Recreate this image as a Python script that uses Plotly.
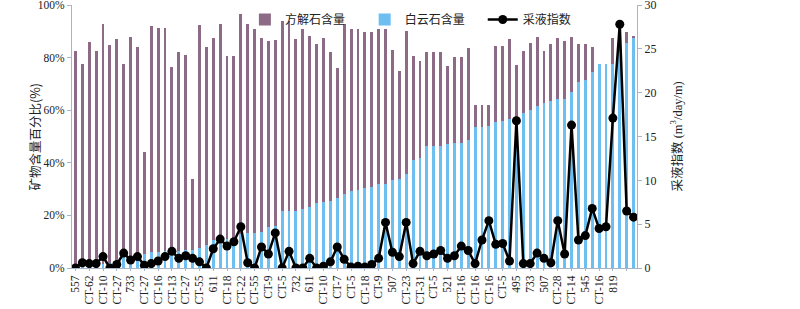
import plotly.graph_objects as go

# ---- data ----
tick_labels = ["557", "CT-62", "CT-10", "CT-27", "733", "CT-27", "CT-16", "CT-13", "CT-27", "CT-55",
               "611", "CT-18", "CT-22", "CT-55", "CT-9", "CT-5", "732", "611", "CT-10", "CT-7",
               "CT-5", "CT-18", "CT-9", "507", "CT-23", "CT-31", "CT-5", "521", "CT-16", "CT-16",
               "CT-16", "CT-5", "495", "733", "507", "CT-28", "CT-14", "545", "CT-16", "819", ""]

dolomite = [1, 1, 1, 1, 1.5, 2, 3, 4.2, 4.2, 4.3,
            5.5, 6.1, 6.2, 6.3, 6.5, 6.6, 6.8, 7.0, 7.7, 8.6,
            10.5, 10.8, 11.2, 11.5, 13.1, 13.5, 13.5, 13.7, 15.6, 16.1,
            21.6, 21.6, 21.8, 22.6, 23.2, 24.7, 25.1, 25.6, 26.6, 28.3,
            29.3, 29.6, 30.6, 30.8, 31.9, 31.9, 33.4, 33.8, 35.9, 41.2,
            42.0, 46.4, 46.4, 46.4, 47.1, 47.6, 47.7, 48.6, 53.7, 53.7,
            53.9, 55.6, 55.8, 56.6, 57.5, 58.8, 60.0, 61.5, 62.6, 63.5,
            64.2, 64.2, 67.0, 70.7, 71.4, 74.6, 77.4, 77.4, 77.4, 82.0,
            85.7, 87.7]

calcite = [81.5, 76.4, 84.9, 81.7, 91.3, 82.8, 84.1, 73.5, 83.5, 79.7,
           38.5, 85.9, 85.2, 84.9, 70.0, 75.4, 74.2, 26.8, 84.7, 75.5,
           77.1, 81.8, 69.4, 69.1, 83.5, 79.1, 77.5, 73.6, 70.8, 70.6,
           72.4, 72.4, 65.1, 68.4, 65.0, 60.5, 62.5, 56.4, 49.4, 64.3,
           61.7, 61.4, 59.3, 59.1, 59.1, 59.1, 49.6, 41.2, 54.3, 39.5,
           36.7, 35.6, 35.6, 35.6, 29.7, 32.6, 32.5, 34.9, 8.2, 8.2,
           8.0, 28.8, 28.6, 30.5, 19.5, 23.9, 25.7, 26.4, 20.1, 21.7,
           23.1, 22.0, 20.9, 14.5, 13.8, 9.3, 0, 0, 10.2, 8.0,
           3.9, 0.5]

liquid_index = [0, 0.6, 0.5, 0.5, 1.3, 0, 0.4, 1.7, 0.9, 1.3,
                0.3, 0.5, 0.8, 1.3, 1.9, 1.1, 1.4, 1.1, 0.7, 0,
                2.2, 3.3, 2.5, 3.0, 4.7, 0.6, 0, 2.4, 1.6, 4.0,
                0, 1.9, 0, 0, 1.1, 0, 0.2, 0.7, 2.4, 1.0,
                0.1, 0.2, 0.1, 0.4, 1.1, 5.2, 1.8, 1.3, 5.2, 0.5,
                1.9, 1.4, 1.6, 2.0, 1.1, 1.4, 2.5, 2.0, 0.5, 3.2,
                5.4, 2.7, 2.8, 0.8, 16.8, 0.5, 0.5, 1.7, 1.1, 0.6,
                5.4, 1.6, 16.3, 3.2, 3.7, 6.8, 4.5, 4.7, 17.1, 27.8,
                6.5, 5.8]

x = list(range(len(dolomite)))
tick_pos = list(range(0, len(dolomite), 2))[:len(tick_labels)]

PURPLE = "#8d6b87"
BLUE = "#6cbff0"
SERIF = "Liberation Serif, Times New Roman, serif"
CJK = "Noto Sans CJK SC, sans-serif"

fig = go.Figure()
fig.add_trace(go.Bar(x=x, y=dolomite, name="白云石含量", marker_color=BLUE,
                     marker_line_width=0, width=0.42, legend="legend2"))
fig.add_trace(go.Bar(x=x, y=calcite, name="方解石含量", marker_color=PURPLE,
                     marker_line_width=0, width=0.42, legend="legend"))
fig.add_trace(go.Scatter(x=x, y=liquid_index, name="采液指数", yaxis="y2",
                         mode="lines+markers", line=dict(color="black", width=2.5),
                         marker=dict(color="black", size=9), legend="legend3"))

axis_col = "#a6b6c8"
leg_common = dict(orientation="h", y=1.0, xanchor="left", yanchor="top",
                  bgcolor="rgba(0,0,0,0)", font=dict(family=CJK, size=12, color="#222"),
                  itemwidth=30)
fig.update_layout(
    width=800, height=309,
    margin=dict(l=72, r=163, t=5, b=41, autoexpand=False),
    barmode="stack",
    bargap=0.5,
    plot_bgcolor="white", paper_bgcolor="white",
    showlegend=True,
    legend=dict(x=0.306, **leg_common),
    legend2=dict(x=0.518, **leg_common),
    legend3=dict(x=0.727, **leg_common),
    xaxis=dict(range=[-0.5, len(x) - 0.5], tickmode="array", tickvals=tick_pos,
               ticktext=tick_labels, tickangle=-90, showgrid=False,
               showline=True, linecolor=axis_col, linewidth=1,
               ticks="outside", ticklen=2, tickcolor=axis_col,
               ticklabeloverflow="allow", automargin=False,
               tickfont=dict(family=SERIF, size=11.5, color="#222")),
    yaxis=dict(range=[0, 100], tickvals=[0, 20, 40, 60, 80, 100],
               ticktext=["0%", "20%", "40%", "60%", "80%", "100%"],
               showgrid=False, zeroline=False, showline=True, linecolor=axis_col,
               ticks="outside", ticklen=4, tickcolor=axis_col,
               ticklabeloverflow="allow", automargin=False,
               tickfont=dict(family=SERIF, size=11.5, color="#222")),
    yaxis2=dict(range=[0, 30], tickvals=[0, 5, 10, 15, 20, 25, 30], overlaying="y",
                side="right", showgrid=False, zeroline=False, showline=True,
                linecolor=axis_col, ticks="outside", ticklen=4, tickcolor=axis_col,
                ticklabeloverflow="allow", automargin=False,
                tickfont=dict(family=SERIF, size=12, color="#222")),
    annotations=[
        dict(text="矿物含量百分比(%)", xref="paper", yref="paper", x=-0.0655, y=0.5,
             textangle=-90, showarrow=False, xanchor="center", yanchor="middle",
             font=dict(family=CJK, size=12.5, color="#222")),
        dict(text="采液指数 (m<sup>3</sup>/day/m)", xref="paper", yref="paper", x=1.069, y=0.5,
             textangle=-90, showarrow=False, xanchor="center", yanchor="middle",
             font=dict(family=SERIF + ", Noto Sans CJK SC", size=12.5, color="#222")),
    ],
)

fig.write_html("out.html", config={"displayModeBar": False},
               post_script="document.body.style.margin='0';document.body.style.overflow='hidden';")
